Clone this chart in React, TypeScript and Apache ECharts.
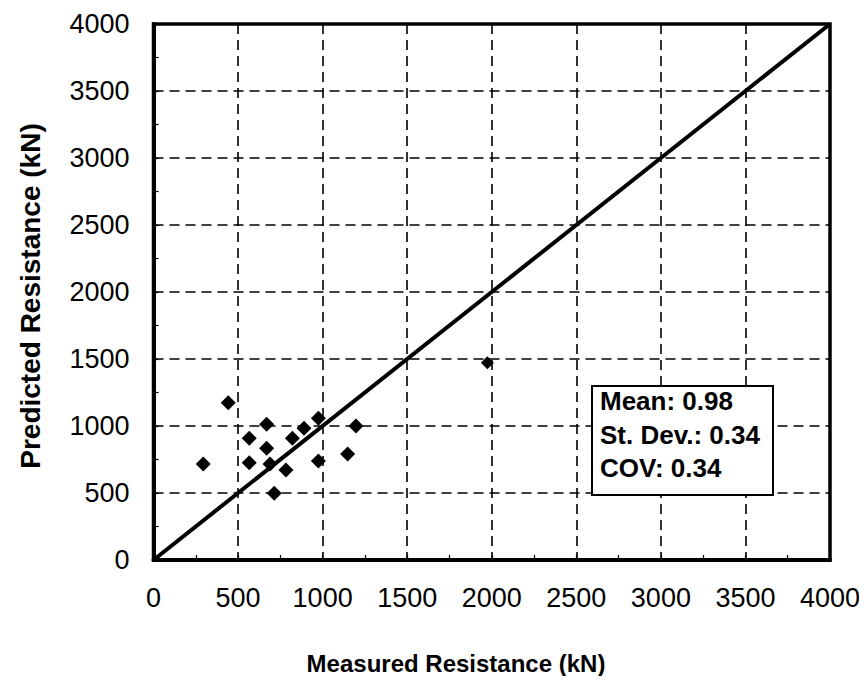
import React, { useEffect, useRef } from "react";
import * as echarts from "echarts";

const measured = [294, 442, 566, 566, 669, 669, 689, 714, 783, 821, 890, 975, 975, 1148, 1197, 1974];
const predicted = [716, 1174, 908, 726, 1013, 834, 716, 498, 672, 908, 983, 1057, 739, 791, 1000, 1472];
const equalityLine = [0, 4000];
const statsLines = ["Mean: 0.98", "St. Dev.: 0.34", "COV: 0.34"];
const xTitle = "Measured Resistance (kN)";
const yTitle = "Predicted Resistance (kN)";

const FONT = "'Liberation Sans', Arial, sans-serif";

export default function App() {
  const ref = useRef<HTMLDivElement>(null);
  useEffect(() => {
    if (!ref.current) return;
    const chart = echarts.init(ref.current, undefined, { renderer: "svg" });
    const points = measured.map((m, i) => [m, predicted[i]]);
    const axisCommon = {
      type: "value",
      min: 0,
      max: 4000,
      interval: 500,
      axisLine: { show: true, lineStyle: { color: "#000", width: 4 } },
      axisTick: { show: true, inside: true, length: 5, lineStyle: { color: "#000", width: 1.2 } },
      minorTick: { show: true, splitNumber: 2, length: 5, lineStyle: { color: "#000", width: 1.2 } },
      splitLine: { show: true, lineStyle: { color: "#000", width: 1.6, type: [10, 6] } },
      axisLabel: {
        color: "#000",
        fontSize: 27,
        fontFamily: FONT,
        margin: 24,
        formatter: (v: number) => String(v),
      },
    };
    chart.setOption({
      animation: false,
      backgroundColor: "#fff",
      grid: {
        left: 153.5,
        right: 37,
        top: 24,
        bottom: 124,
        show: true,
        borderColor: "#000",
        borderWidth: 3.5,
        backgroundColor: "transparent",
      },
      xAxis: { ...axisCommon },
      yAxis: { ...axisCommon },
      series: [
        {
          type: "line",
          data: equalityLine.map((v) => [v, v]),
          symbol: "none",
          lineStyle: { color: "#000", width: 4 },
          z: 3,
        },
        {
          type: "scatter",
          data: points,
          symbol: "diamond",
          symbolSize: (val: number[]) => (val[0] > 1500 ? 13 : 15),
          itemStyle: { color: "#000", opacity: 1 },
          z: 4,
        },
      ],
      graphic: [
        {
          type: "rect",
          shape: { x: 592, y: 386, width: 181, height: 109 },
          style: { fill: "#fff", stroke: "#000", lineWidth: 2 },
          z: 10,
        },
        ...statsLines.map((t, i) => ({
          type: "text",
          x: 600,
          y: 401 + i * 33.7,
          z: 11,
          style: {
            text: t,
            font: `bold 26px ${FONT}`,
            fill: "#000",
            align: "left",
            verticalAlign: "middle",
          },
        })),
        {
          type: "text",
          x: 456,
          y: 663,
          style: {
            text: xTitle,
            font: `bold 24px ${FONT}`,
            fill: "#000",
            align: "center",
            verticalAlign: "middle",
          },
        },
        {
          type: "text",
          x: 30,
          y: 296,
          rotation: Math.PI / 2,
          style: {
            text: yTitle,
            font: `bold 28px ${FONT}`,
            fill: "#000",
            align: "center",
            verticalAlign: "middle",
          },
        },
      ],
    });
    return () => chart.dispose();
  }, []);
  return <div ref={ref} style={{ width: 867, height: 684, margin: -8 }} />;
}
